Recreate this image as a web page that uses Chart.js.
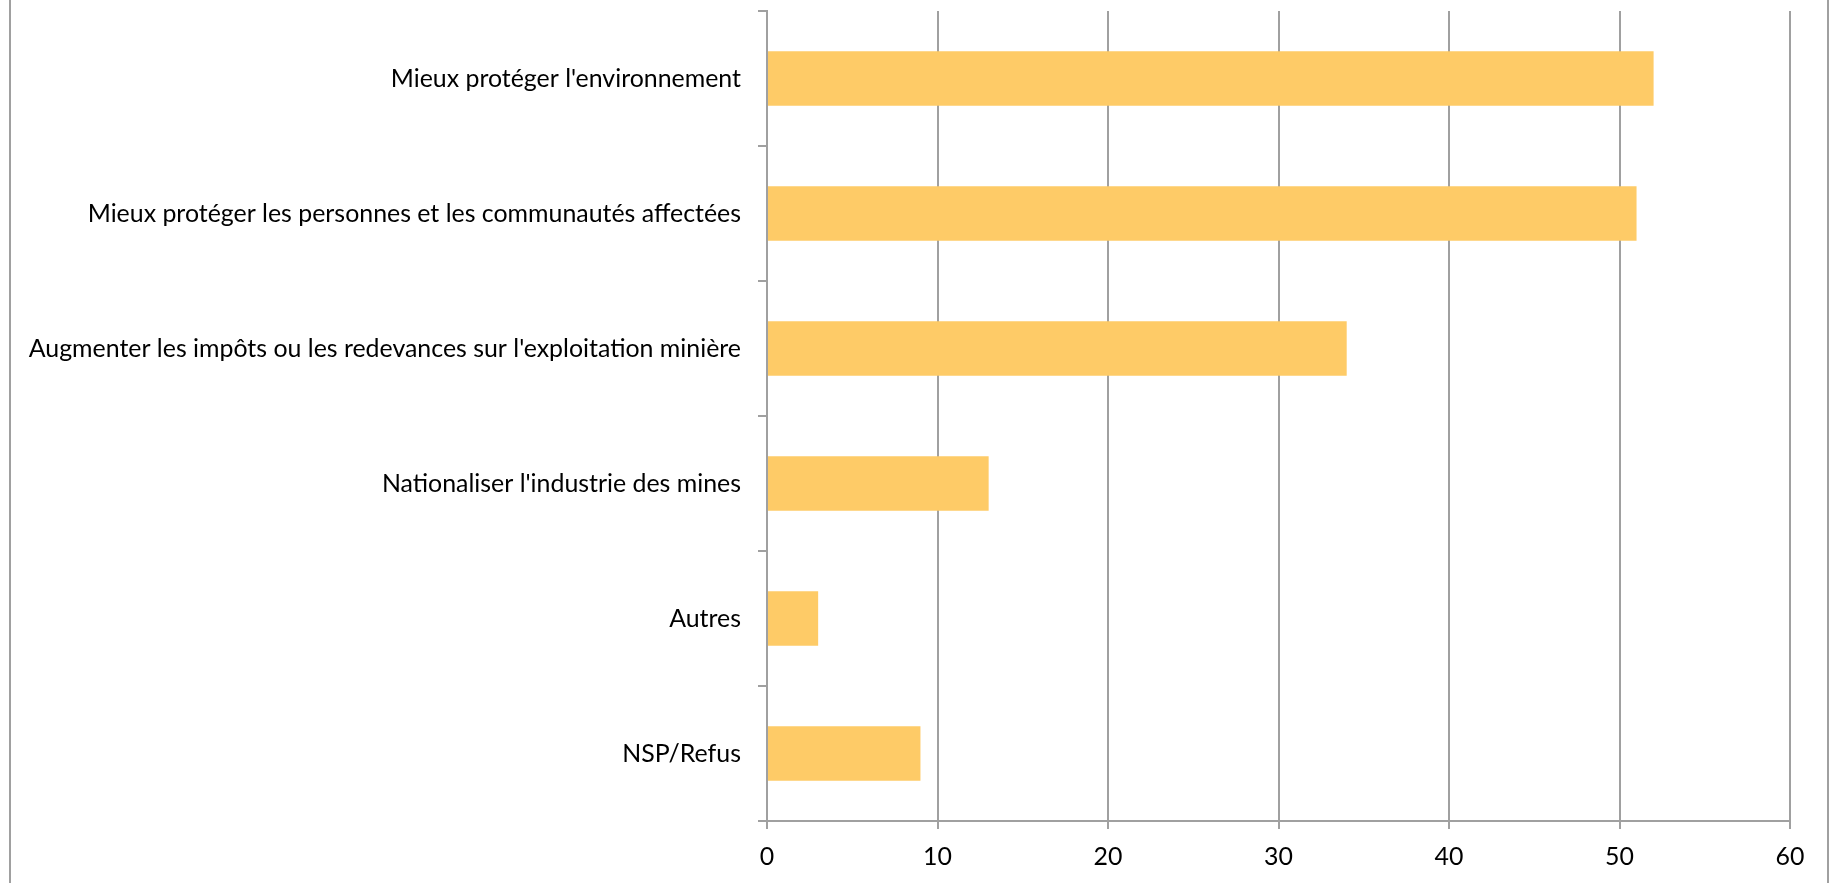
<!DOCTYPE html>
<html>
<head>
<meta charset="utf-8">
<script src="https://cdn.jsdelivr.net/npm/chart.js@4/dist/chart.umd.min.js"></script>
<style>
  html, body { margin: 0; padding: 0; background: #ffffff; }
  #wrap { width: 1835px; height: 883px; position: relative; }
</style>
</head>
<body>
<div id="wrap"><canvas id="c" width="1835" height="883"></canvas></div>
<script>
const categories = [
  "Mieux protéger l'environnement",
  "Mieux protéger les personnes et les communautés affectées",
  "Augmenter les impôts ou les redevances sur l'exploitation minière",
  "Nationaliser l'industrie des mines",
  "Autres",
  "NSP/Refus"
];
const values = [52, 51, 34, 13, 3, 9];
const xMin = 0, xMax = 60, xStep = 10;

const FONT_FAMILY = "Lato, 'Open Sans', 'DejaVu Sans', sans-serif";
const GRID = '#a0a0a0';

// size font so that the longest category label matches the reference width
function fitFontSize() {
  const cv = document.createElement('canvas').getContext('2d');
  cv.font = '100px ' + FONT_FAMILY;
  let maxW = 0;
  categories.forEach(c => { maxW = Math.max(maxW, cv.measureText(c).width); });
  return Math.round(100 * 712 / maxW * 10) / 10;
}
const fontSize = fitFontSize();

const frame = {
  id: 'frame',
  afterDraw(chart) {
    const ctx = chart.ctx;
    ctx.save();
    ctx.strokeStyle = GRID;
    ctx.lineWidth = 2;
    ctx.beginPath();
    ctx.moveTo(10, 0); ctx.lineTo(10, chart.height);
    ctx.moveTo(1828, 0); ctx.lineTo(1828, chart.height);
    ctx.stroke();
    ctx.restore();
  }
};

new Chart(document.getElementById('c'), {
  type: 'bar',
  data: {
    labels: categories,
    datasets: [{
      data: values,
      backgroundColor: '#fecb67',
      borderWidth: 0,
      barPercentage: 0.405,
      categoryPercentage: 1.0
    }]
  },
  options: {
    indexAxis: 'y',
    responsive: false,
    animation: false,
    layout: { padding: { top: 11, right: 45, bottom: 0, left: 0 } },
    plugins: { legend: { display: false }, tooltip: { enabled: false } },
    scales: {
      x: {
        min: xMin, max: xMax,
        ticks: { stepSize: xStep, color: '#000', font: { family: FONT_FAMILY, size: fontSize }, padding: 13 },
        grid: { color: GRID, lineWidth: 2, tickLength: 8, drawTicks: true },
        border: { color: GRID, width: 2 },
        afterFit(scale) { scale.height = 62; }
      },
      y: {
        offset: true,
        ticks: { color: '#000', font: { family: FONT_FAMILY, size: fontSize }, padding: 17 },
        grid: { offset: true, drawOnChartArea: false, color: GRID, lineWidth: 2, tickLength: 9 },
        border: { color: GRID, width: 2 },
        afterFit(scale) {
          scale.width = 767;
          scale.paddingTop = 0;
          scale.paddingBottom = 0;
        }
      }
    }
  },
  plugins: [frame]
});
</script>
</body>
</html>
